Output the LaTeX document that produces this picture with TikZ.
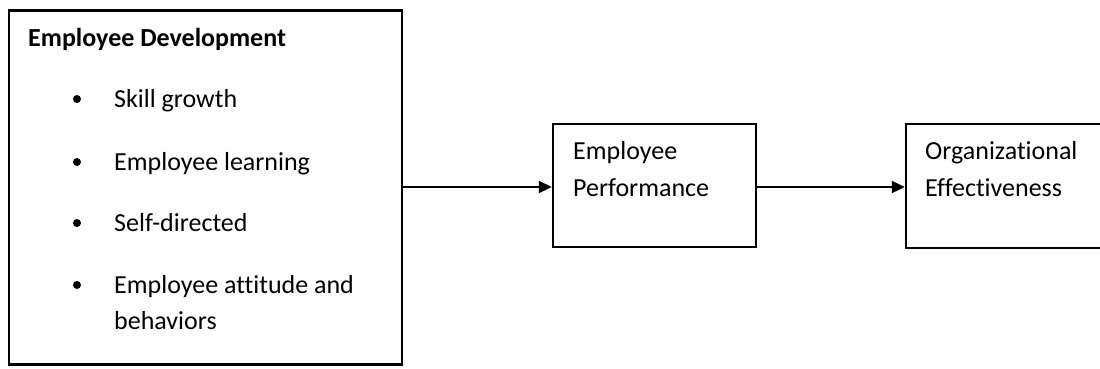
\documentclass[tikz,border=0pt]{standalone}
\usepackage{fontspec}
\setmainfont{Carlito}[Ligatures=NoCommon]
\usetikzlibrary{arrows.meta,positioning}

\begin{document}
\begin{tikzpicture}[x=1pt,y=-1pt,
        box/.style={draw,line width=2.4pt,inner sep=0pt},
        txt/.style={anchor=base west,inner sep=0pt,font=\fontsize{26}{30}\selectfont},
        dot/.style={circle,fill,inner sep=0pt,minimum size=8pt},
        arr/.style={line width=2pt,-{Triangle[length=13pt,width=12pt]}}]
    \clip (0,0) rectangle (1100,368);
    \useasboundingbox (0,0) rectangle (1100,368);
    % boxes
    \node[box,minimum width=393pt,minimum height=354pt] (dev) at (205.5,187.5) {};
    \node[box,minimum width=203pt,minimum height=123pt] (perf) at (654.5,185.5) {};
    \node[box,minimum width=209pt,minimum height=124pt] (org) at (1010.5,186) {};
    % left box contents
    \node[txt,font=\fontsize{26}{30}\selectfont\bfseries] (head) at (28,46) {Employee Development};
    \foreach \n/\y/\t in {1/107/Skill growth,2/170/Employee learning,3/231/Self-directed,4/293/Employee attitude and}{
        \node[dot] (d\n) at (77,{\y-8}) {};
        \node[txt] (it\n) at (114,\y) {\t};
    }
    \node[txt] (it4b) at (114,329) {behaviors};
    % right box contents
    \node[txt] (perf1) at (573,159) {Employee};
    \node[txt] (perf2) at (573,196) {Performance};
    \node[txt] (org1) at (925,159) {Organizational};
    \node[txt] (org2) at (925,196) {Effectiveness};
    % connectors
    \draw[arr] (dev.east |- 0,187) -- (perf.west |- 0,187);
    \draw[arr] (perf.east |- 0,187) -- (org.west |- 0,187);
\end{tikzpicture}
\end{document}
